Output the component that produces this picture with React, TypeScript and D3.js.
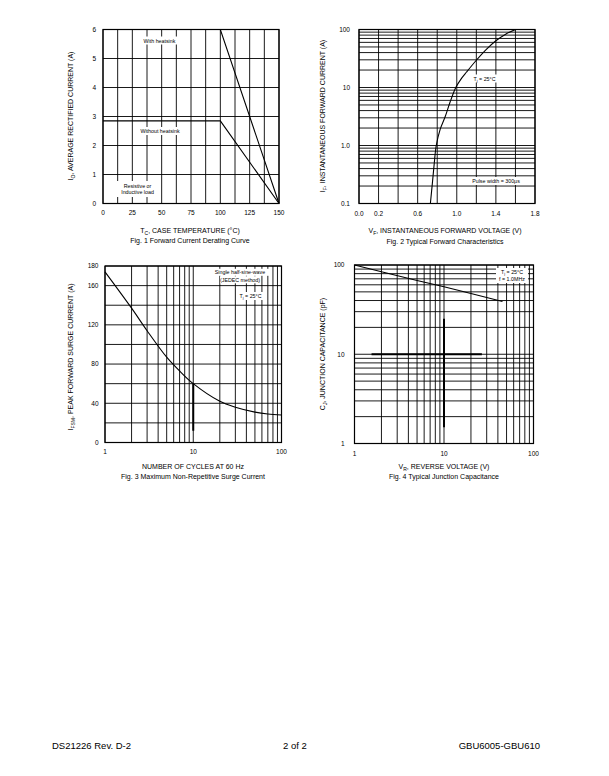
import React from "react";
import * as d3 from "d3";

// ---------- Fig. 1 data ----------
const fig1Temp = [0, 100, 150];
const fig1WithHeatsink = [6, 6, 0];
const fig1WithoutHeatsink = [2.85, 2.85, 0];
const fig1XTicks = [0, 25, 50, 75, 100, 125, 150];
const fig1YTicks = [0, 1, 2, 3, 4, 5, 6];
const fig1XGrid = [0, 12.5, 25, 37.5, 50, 62.5, 75, 87.5, 100, 112.5, 125, 137.5, 150];

// ---------- Fig. 2 data ----------
const fig2Voltage = [0.73, 0.75, 0.77, 0.79, 0.83, 0.88, 0.93, 0.99, 1.05, 1.1, 1.2, 1.3, 1.4, 1.5, 1.6];
const fig2Current = [0.1, 0.22, 0.5, 1.0, 1.9, 3.1, 5.5, 10, 14.5, 18.5, 29.5, 45, 64, 83, 100];
const fig2XTicks = [0.0, 0.2, 0.6, 1.0, 1.4, 1.8];
const fig2XTickLabels = ["0.0", "0.2", "0.6", "1.0", "1.4", "1.8"];
const fig2XGrid = [0, 0.2, 0.4, 0.6, 0.8, 1.0, 1.2, 1.4, 1.6, 1.8];
const fig2YTicks = [0.1, 1, 10, 100];
const fig2YTickLabels = ["0.1", "1.0", "10", "100"];

// ---------- Fig. 3 data ----------
const fig3Cycles = [1, 2, 3, 5, 7, 10, 20, 30, 50, 70, 100];
const fig3Current = [174, 137, 114, 87, 73, 60, 42, 36, 31, 29, 28];
const fig3XTicks = [1, 10, 100];
const fig3YTicks = [0, 40, 80, 120, 160, 180];
const fig3YGrid = [0, 20, 40, 60, 80, 100, 120, 140, 160, 180];
const fig3Marker = [12, 60]; // bold segment on the 10-cycle line

// ---------- Fig. 4 data ----------
const fig4Voltage = [1, 2, 5, 10, 20, 45];
const fig4Capacitance = [100, 84, 67, 57, 48, 39];
const fig4XTicks = [1, 10, 100];
const fig4YTicks = [1, 10, 100];
const fig4CrossV = [1.55, 26.5]; // horizontal bold bar at 10 pF
const fig4CrossC = [1.52, 25]; // vertical bold bar at 10 V

const FONT = "'Liberation Sans', Arial, Helvetica, sans-serif";

function logGrid(lo: number, hi: number): number[] {
  const out: number[] = [];
  for (let d = lo; d < hi; d *= 10) {
    for (let k = 1; k <= 9; k++) out.push(d * k);
  }
  out.push(hi);
  return out;
}

function TitleText(props: {
  x: number;
  y: number;
  main: string;
  sub: string;
  rest: string;
  size?: number;
  rotate?: boolean;
}) {
  const { x, y, main, sub, rest, size = 7, rotate } = props;
  return (
    <text
      transform={rotate ? `translate(${x},${y}) rotate(-90)` : `translate(${x},${y})`}
      textAnchor="middle"
      fontSize={size}
      fontFamily={FONT}
      fill="#000"
    >
      {main}
      <tspan fontSize={size * 0.72} dy={1.8}>
        {sub}
      </tspan>
      <tspan dy={-1.8}>{rest}</tspan>
    </text>
  );
}

function PlainText(props: {
  x: number;
  y: number;
  text: string;
  size?: number;
  anchor?: string;
}) {
  const { x, y, text, size = 7, anchor = "middle" } = props;
  return (
    <text x={x} y={y} textAnchor={anchor as any} fontSize={size} fontFamily={FONT} fill="#000">
      {text}
    </text>
  );
}

function BoxLabel(props: { x: number; y: number; w: number; h: number; children: React.ReactNode }) {
  const { x, y, w, h, children } = props;
  return (
    <g>
      <rect x={x - w / 2} y={y - h / 2} width={w} height={h} fill="#fff" />
      {children}
    </g>
  );
}

const GRID = "#000";
const GW = 0.9;

function Fig1() {
  const x = d3.scaleLinear().domain([0, 150]).range([103, 279]);
  const y = d3.scaleLinear().domain([0, 6]).range([203.5, 29.5]);
  const line = d3
    .line<number>()
    .x((_, i) => x(fig1Temp[i]))
    .y((d) => y(d));
  return (
    <g>
      {fig1XGrid.map((v) => (
        <line key={"v" + v} x1={x(v)} x2={x(v)} y1={y(0)} y2={y(6)} stroke={GRID} strokeWidth={GW} />
      ))}
      {fig1YTicks.map((v) => (
        <line key={"h" + v} x1={x(0)} x2={x(150)} y1={y(v)} y2={y(v)} stroke={GRID} strokeWidth={GW} />
      ))}
      <rect x={x(0)} y={y(6)} width={x(150) - x(0)} height={y(0) - y(6)} fill="none" stroke="#000" strokeWidth={1.2} />
      <BoxLabel x={159.5} y={40.5} w={38} h={8}>
        <PlainText x={159.5} y={42.5} text="With heatsink" size={5.3} />
      </BoxLabel>
      <BoxLabel x={160} y={131} w={44} h={8}>
        <PlainText x={160} y={133} text="Without heatsink" size={5.3} />
      </BoxLabel>
      <BoxLabel x={137.5} y={189} w={42} h={16}>
        <PlainText x={137.5} y={187.5} text="Resistive or" size={5.3} />
        <PlainText x={137.5} y={194.3} text="Inductive load" size={5.3} />
      </BoxLabel>
      <path d={line(fig1WithHeatsink) || ""} fill="none" stroke="#000" strokeWidth={1.1} />
      <path d={line(fig1WithoutHeatsink) || ""} fill="none" stroke="#000" strokeWidth={1.1} />
      {fig1YTicks.map((v) => (
        <PlainText key={"yl" + v} x={96} y={y(v) + 2.3} text={String(v)} size={6.5} anchor="end" />
      ))}
      {fig1XTicks.map((v) => (
        <PlainText key={"xl" + v} x={x(v)} y={215} text={String(v)} size={6.5} />
      ))}
      <TitleText x={73} y={116} main="I" sub="O" rest=", AVERAGE RECTIFIED CURRENT (A)" rotate />
      <TitleText x={190} y={233} main="T" sub="C" rest=", CASE TEMPERATURE (°C)" />
      <PlainText x={190} y={243} text="Fig. 1  Forward Current Derating Curve" size={7} />
    </g>
  );
}

function Fig2() {
  const x = d3.scaleLinear().domain([0, 1.8]).range([359, 535]);
  const y = d3.scaleLog().domain([0.1, 100]).range([203.5, 29.5]);
  const line = d3
    .line<number>()
    .x((_, i) => x(fig2Voltage[i]))
    .y((d) => y(d))
    .curve(d3.curveCatmullRom.alpha(0.5));
  return (
    <g>
      {fig2XGrid.map((v) => (
        <line key={"v" + v} x1={x(v)} x2={x(v)} y1={y(0.1)} y2={y(100)} stroke={GRID} strokeWidth={GW} />
      ))}
      {logGrid(0.1, 100).map((v, i) => (
        <line key={"h" + i} x1={x(0)} x2={x(1.8)} y1={y(v)} y2={y(v)} stroke={GRID} strokeWidth={GW} />
      ))}
      <rect x={x(0)} y={y(100)} width={x(1.8) - x(0)} height={y(0.1) - y(100)} fill="none" stroke="#000" strokeWidth={1.2} />
      <BoxLabel x={496} y={181} w={57} h={8}>
        <PlainText x={496} y={183} text="Pulse width = 300µs" size={5.3} />
      </BoxLabel>
      <path d={line(fig2Current) || ""} fill="none" stroke="#000" strokeWidth={1.1} />
      <BoxLabel x={484.5} y={78.5} w={28} h={8}>
        <text x={484.5} y={80.5} textAnchor="middle" fontSize={5.3} fontFamily={FONT}>
          T<tspan fontSize={3.8} dy={1.2}>j</tspan>
          <tspan dy={-1.2}> = 25°C</tspan>
        </text>
      </BoxLabel>
      {fig2YTicks.map((v, i) => (
        <PlainText key={"yl" + v} x={350} y={y(v) + 2.3} text={fig2YTickLabels[i]} size={6.5} anchor="end" />
      ))}
      {fig2XTicks.map((v, i) => (
        <PlainText key={"xl" + v} x={x(v)} y={215.5} text={fig2XTickLabels[i]} size={6.5} />
      ))}
      <TitleText x={325} y={116} main="I" sub="F" rest=", INSTANTANEOUS FORWARD CURRENT (A)" rotate />
      <TitleText x={445} y={233} main="V" sub="F" rest=", INSTANTANEOUS FORWARD VOLTAGE (V)" />
      <PlainText x={445} y={243.5} text="Fig. 2  Typical Forward Characteristics" size={7} />
    </g>
  );
}

function Fig3() {
  const x = d3.scaleLog().domain([1, 100]).range([105, 281.5]);
  const y = d3.scaleLinear().domain([0, 180]).range([442.5, 266]);
  const line = d3
    .line<number>()
    .x((_, i) => x(fig3Cycles[i]))
    .y((d) => y(d))
    .curve(d3.curveCatmullRom.alpha(0.5));
  return (
    <g>
      {logGrid(1, 100).map((v, i) => (
        <line key={"v" + i} x1={x(v)} x2={x(v)} y1={y(0)} y2={y(180)} stroke={GRID} strokeWidth={GW} />
      ))}
      {fig3YGrid.map((v) => (
        <line key={"h" + v} x1={x(1)} x2={x(100)} y1={y(v)} y2={y(v)} stroke={GRID} strokeWidth={GW} />
      ))}
      <line x1={x(10)} x2={x(10)} y1={y(fig3Marker[0])} y2={y(fig3Marker[1])} stroke="#000" strokeWidth={2} />
      <rect x={x(1)} y={y(180)} width={x(100) - x(1)} height={y(0) - y(180)} fill="none" stroke="#000" strokeWidth={1.2} />
      <BoxLabel x={240} y={272.3} w={58} h={7}>
        <PlainText x={240} y={274.3} text="Single half-sine-wave" size={5.3} />
      </BoxLabel>
      <BoxLabel x={240} y={279.8} w={40} h={7}>
        <PlainText x={240} y={281.8} text="(JEDEC method)" size={5.3} />
      </BoxLabel>
      <BoxLabel x={250.5} y={296} w={26} h={8}>
        <text x={250.5} y={298} textAnchor="middle" fontSize={5.3} fontFamily={FONT}>
          T<tspan fontSize={3.8} dy={1.2}>j</tspan>
          <tspan dy={-1.2}> = 25°C</tspan>
        </text>
      </BoxLabel>
      <path d={line(fig3Current) || ""} fill="none" stroke="#000" strokeWidth={1.1} />
      {fig3YTicks.map((v) => (
        <PlainText key={"yl" + v} x={98.5} y={y(v) + 2.3} text={String(v)} size={6.5} anchor="end" />
      ))}
      {fig3XTicks.map((v) => (
        <PlainText key={"xl" + v} x={x(v)} y={454} text={String(v)} size={6.5} />
      ))}
      <TitleText x={73} y={357} main="I" sub="FSM" rest=", PEAK FORWARD SURGE CURRENT (A)" rotate />
      <PlainText x={193} y={468.5} text="NUMBER OF CYCLES AT 60 Hz" size={7} />
      <PlainText x={193} y={478.5} text="Fig. 3  Maximum Non-Repetitive Surge Current" size={7} />
    </g>
  );
}

function Fig4() {
  const x = d3.scaleLog().domain([1, 100]).range([354.5, 533.5]);
  const y = d3.scaleLog().domain([1, 100]).range([443.5, 265]);
  const line = d3
    .line<number>()
    .x((_, i) => x(fig4Voltage[i]))
    .y((d) => y(d));
  return (
    <g>
      {logGrid(1, 100).map((v, i) => (
        <line key={"v" + i} x1={x(v)} x2={x(v)} y1={y(1)} y2={y(100)} stroke={GRID} strokeWidth={GW} />
      ))}
      {logGrid(1, 100).map((v, i) => (
        <line key={"h" + i} x1={x(1)} x2={x(100)} y1={y(v)} y2={y(v)} stroke={GRID} strokeWidth={GW} />
      ))}
      <line x1={x(fig4CrossV[0])} x2={x(fig4CrossV[1])} y1={y(10)} y2={y(10)} stroke="#000" strokeWidth={2} />
      <line x1={x(10)} x2={x(10)} y1={y(fig4CrossC[0])} y2={y(fig4CrossC[1])} stroke="#000" strokeWidth={2} />
      <rect x={x(1)} y={y(100)} width={x(100) - x(1)} height={y(1) - y(100)} fill="none" stroke="#000" strokeWidth={1.2} />
      <BoxLabel x={512} y={275.5} w={32} h={15}>
        <text x={512} y={273.5} textAnchor="middle" fontSize={5.3} fontFamily={FONT}>
          T<tspan fontSize={3.8} dy={1.2}>j</tspan>
          <tspan dy={-1.2}> = 25°C</tspan>
        </text>
        <PlainText x={512} y={281.3} text="f = 1.0MHz" size={5.3} />
      </BoxLabel>
      <path d={line(fig4Capacitance) || ""} fill="none" stroke="#000" strokeWidth={1.1} />
      {fig4YTicks.map((v) => (
        <PlainText key={"yl" + v} x={344.5} y={y(v) + 2.3} text={String(v)} size={6.5} anchor="end" />
      ))}
      {fig4XTicks.map((v) => (
        <PlainText key={"xl" + v} x={x(v)} y={456} text={String(v)} size={6.5} />
      ))}
      <TitleText x={325} y={354} main="C" sub="J" rest=", JUNCTION CAPACITANCE (pF)" rotate />
      <TitleText x={444} y={469} main="V" sub="R" rest=", REVERSE VOLTAGE (V)" />
      <PlainText x={444} y={479} text="Fig. 4  Typical Junction Capacitance" size={7} />
    </g>
  );
}

export default function App() {
  return (
    <svg
      width={609}
      height={776}
      viewBox="0 0 609 776"
      style={{ position: "absolute", left: 0, top: 0, background: "#fff" }}
    >
      <rect x={0} y={0} width={609} height={776} fill="#fff" />
      <Fig1 />
      <Fig2 />
      <Fig3 />
      <Fig4 />
      <PlainText x={52} y={749} text="DS21226 Rev. D-2" size={9.5} anchor="start" />
      <PlainText x={295} y={749} text="2 of 2" size={9.5} />
      <PlainText x={540} y={749} text="GBU6005-GBU610" size={9.5} anchor="end" />
    </svg>
  );
}
